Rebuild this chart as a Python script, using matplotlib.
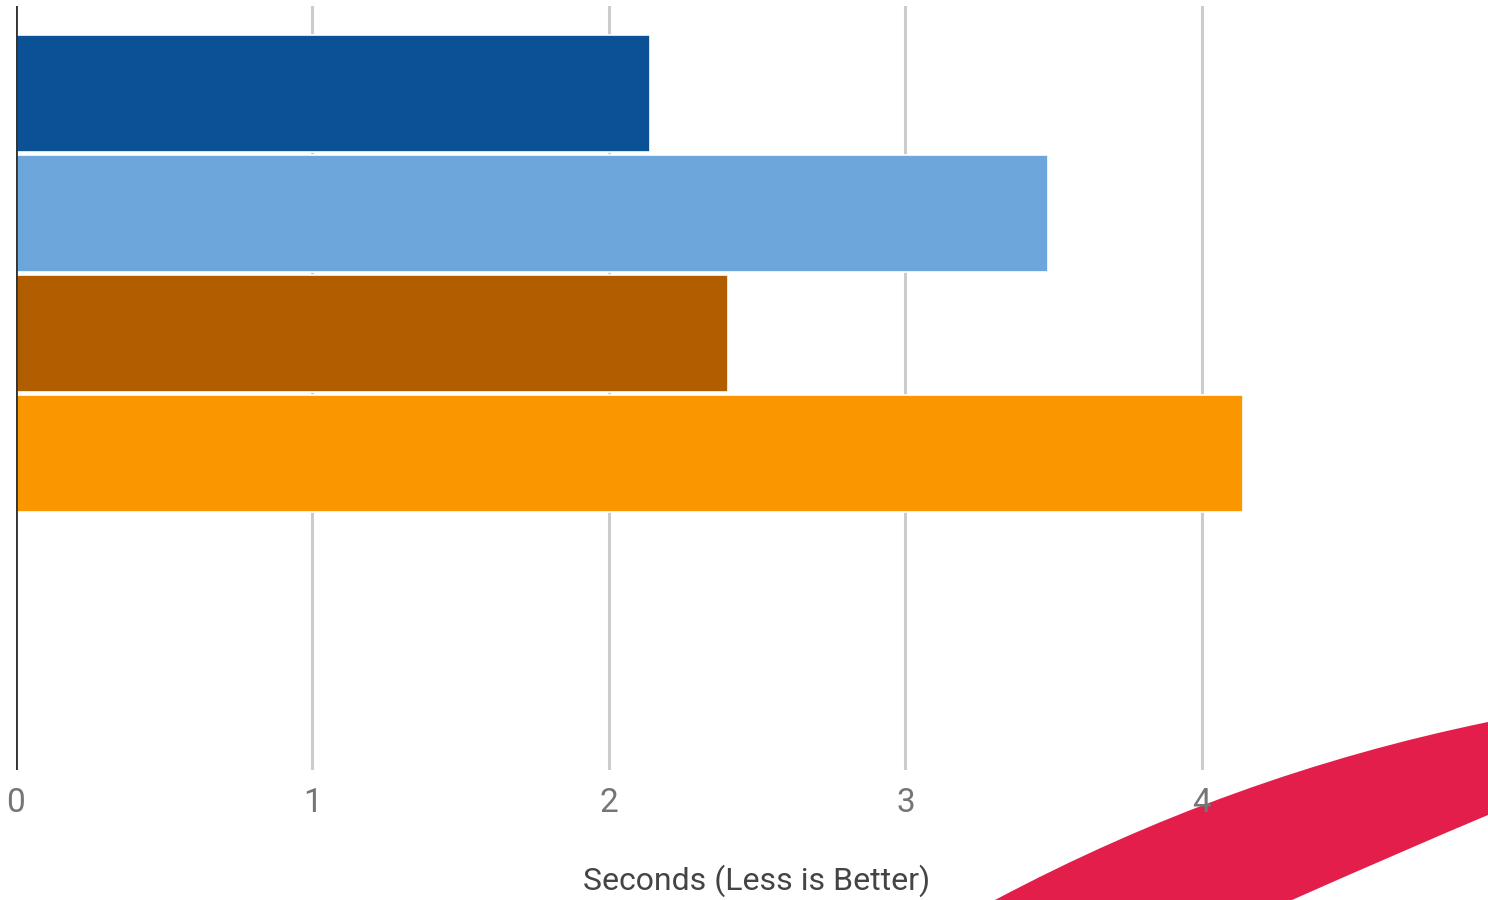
import matplotlib
matplotlib.use("Agg")
import matplotlib.pyplot as plt
from matplotlib.path import Path
from matplotlib.patches import PathPatch

# data (seconds, less is better)
series = ["A", "B", "C", "D"]
seconds = [2.14, 3.48, 2.40, 4.14]
colors = ["#0A5195", "#6CA6DA", "#B05E00", "#F99600"]
xticks = [0, 1, 2, 3, 4]

plt.rcParams["font.family"] = ["Roboto", "DejaVu Sans"]

W, H = 1488, 900
fig = plt.figure(figsize=(W / 100, H / 100), dpi=100)
ax = fig.add_axes([16 / W, 1 - 770 / H, 1 - 16 / W, (770 - 6) / H])
ax.patch.set_visible(False)
ax.set_zorder(2)

pos = list(range(len(seconds)))
ax.barh(pos, seconds, height=0.975, color=colors, zorder=3,
        edgecolor="white", linewidth=1.2)

ax.set_xlim(0, 4.965)
ax.set_ylim(5.64, -0.73)
ax.set_xticks(xticks)
ax.set_xticklabels([str(t) for t in xticks])
ax.set_yticks([])
ax.tick_params(axis="x", length=0, pad=12, labelsize=24, labelcolor="#757575")
ax.grid(axis="x", color="#CCCCCC", lw=2.2, zorder=0)
ax.axvline(0, color="#333333", lw=2, zorder=4)
for s in ax.spines.values():
    s.set_visible(False)

# axis title centred at about (757, 881) px
lab = ax.set_xlabel("Seconds (Less is Better)", fontsize=23, color="#444444")
lab.set_verticalalignment("center")
ax.xaxis.set_label_coords((757 - 16) / (W - 16), (770 - 881) / 764)

# red swoosh in the lower right corner (decoration, behind the axes)
def fx(x):
    return x / W

def fy(y):
    return 1 - y / H

verts = [(fx(995), fy(900)), (fx(1230), fy(775)), (fx(1488), fy(722)),
         (fx(1488), fy(815)), (fx(1400), fy(852)), (fx(1292), fy(900)),
         (fx(995), fy(900))]
codes = [Path.MOVETO, Path.CURVE3, Path.CURVE3, Path.LINETO,
         Path.CURVE3, Path.CURVE3, Path.CLOSEPOLY]
fig.patches.append(PathPatch(Path(verts, codes), transform=fig.transFigure,
                             facecolor="#E31E4A", edgecolor="none", zorder=0))

fig.savefig("out.png", dpi=100)
